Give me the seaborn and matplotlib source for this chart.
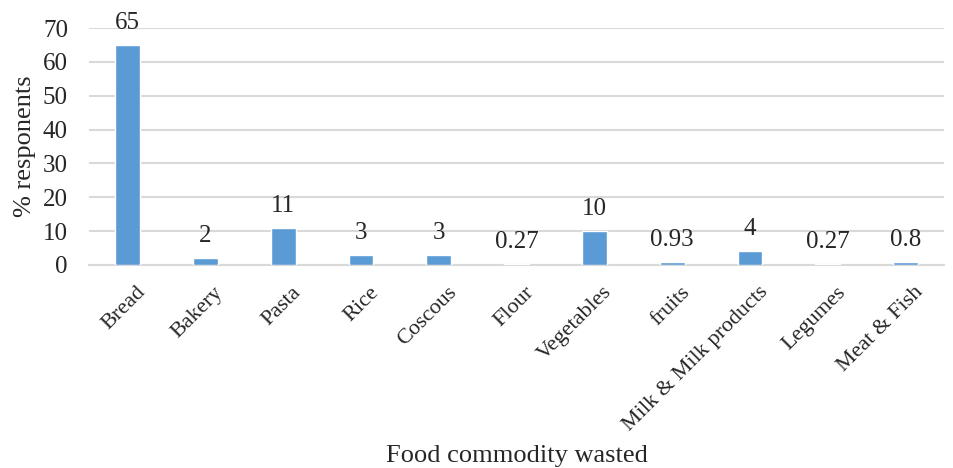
import matplotlib
matplotlib.use('Agg')
import matplotlib.pyplot as plt
import matplotlib.transforms as mtransforms
import seaborn as sns
import pandas as pd

CATEGORIES = ['Bread', 'Bakery', 'Pasta', 'Rice', 'Coscous', 'Flour', 'Vegetables',
              'fruits', 'Milk & Milk products', 'Legumes', 'Meat & Fish']
VALUES = [65, 2, 11, 3, 3, 0.27, 10, 0.93, 4, 0.27, 0.8]
LABELS = ['65', '2', '11', '3', '3', '0.27', '10', '0.93', '4', '0.27', '0.8']
Y_TICKS = [0, 10, 20, 30, 40, 50, 60, 70]

BAR_COLOR = '#5b9bd5'
GRID_COLOR = '#d9d9d9'


def main():
    sns.set_style('white')
    plt.rcParams['font.family'] = ['Liberation Serif', 'DejaVu Serif']

    df = pd.DataFrame({'food': CATEGORIES, 'pct': VALUES})

    fig = plt.figure(figsize=(9.54, 4.68), dpi=100)
    ax = fig.add_axes([0.093, 0.434, 0.897, 0.506])

    sns.barplot(data=df, x='food', y='pct', color=BAR_COLOR, width=0.32,
                saturation=1, ax=ax, zorder=3)

    for bar, lab in zip(ax.patches, LABELS):
        ax.annotate(lab, (bar.get_x() + bar.get_width() / 2, bar.get_height()),
                    xytext=(0, 8), textcoords='offset points',
                    ha='center', va='bottom', fontsize=18)

    ax.set_ylim(0, 70)
    ax.set_xlim(-0.5, len(CATEGORIES) - 0.5)
    ax.set_yticks(Y_TICKS)
    ax.yaxis.grid(True, color=GRID_COLOR, linewidth=1.5, zorder=0)
    ax.set_axisbelow(True)
    for side in ['top', 'right', 'left']:
        ax.spines[side].set_visible(False)
    ax.spines['bottom'].set_color(GRID_COLOR)
    ax.spines['bottom'].set_linewidth(1.5)
    ax.tick_params(axis='y', length=0, labelsize=18, pad=15)
    ax.tick_params(axis='x', length=0, labelsize=16, pad=13)
    # nudge the rotated labels to the right like the original
    shift = mtransforms.ScaledTranslation(6 / 72, 0, fig.dpi_scale_trans)
    for lbl in ax.get_xticklabels():
        lbl.set_rotation(45)
        lbl.set_ha('right')
        lbl.set_rotation_mode('anchor')
        lbl.set_transform(lbl.get_transform() + shift)

    ax.set_xlabel('Food commodity wasted', fontsize=19)
    ax.xaxis.set_label_coords(0.5, -0.76)
    ax.set_ylabel('% responents', fontsize=19)
    ax.yaxis.set_label_coords(-0.062, 0.5)

    fig.savefig('out.png', dpi=100)


if __name__ == '__main__':
    main()
